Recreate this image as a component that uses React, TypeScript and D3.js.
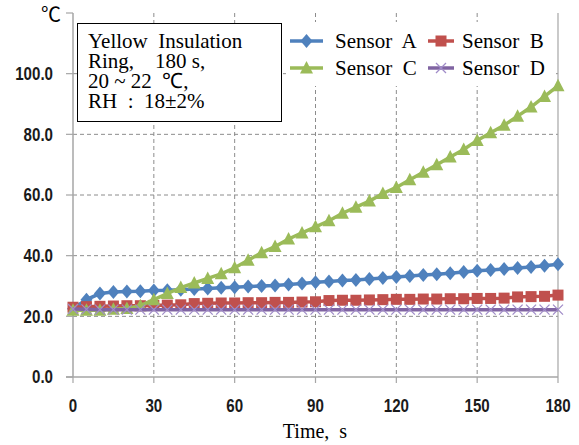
import React from "react";
import * as d3 from "d3";

const times = d3.range(0, 181, 5);
const sensorA = [22.5, 25.5, 27.5, 28, 28.2, 28.3, 28.5, 28.6, 28.8, 29, 29.2, 29.4, 29.6, 29.8, 30, 30.2, 30.5, 30.8, 31.2, 31.5, 31.8, 32, 32.3, 32.6, 33, 33.3, 33.6, 33.9, 34.2, 34.6, 35, 35.3, 35.6, 35.9, 36.3, 36.7, 37.2];
const sensorB = [23, 23.2, 23.3, 23.4, 23.5, 23.5, 23.6, 23.7, 23.8, 24.2, 24.3, 24.4, 24.4, 24.5, 24.5, 24.6, 24.6, 24.7, 24.8, 25.2, 25.3, 25.3, 25.4, 25.5, 25.6, 25.6, 25.7, 25.7, 25.8, 25.8, 25.9, 25.9, 26.0, 26.4, 26.5, 26.6, 27.0];
const sensorC = [22, 22, 22, 22.3, 22.6, 23.5, 25.5, 27.5, 29.5, 31, 32.5, 34, 36, 38.5, 41, 43, 45.5, 47.5, 49.5, 51.5, 54, 56, 58, 60.5, 62.5, 65, 67.5, 70, 72.5, 75, 78, 80.5, 83, 86, 89, 92.5, 96];
const sensorD = [22.4, 22.3, 22.2, 22.2, 22.2, 22.2, 22.2, 22.2, 22.2, 22.2, 22.2, 22.2, 22.2, 22.2, 22.2, 22.2, 22.2, 22.2, 22.2, 22.2, 22.2, 22.2, 22.2, 22.2, 22.2, 22.2, 22.2, 22.2, 22.2, 22.2, 22.2, 22.2, 22.2, 22.2, 22.2, 22.2, 22.2];

const xTicks = [0, 30, 60, 90, 120, 150, 180];
const yTicks = [0, 20, 40, 60, 80, 100];
const infoLines = ["Yellow  Insulation", "Ring,    180 s,", "20 ~ 22  ℃,", "RH  :  18±2%"];

const series = [
  { name: "Sensor  A", values: sensorA, color: "#4F81BD", marker: "diamond" },
  { name: "Sensor  B", values: sensorB, color: "#C0504D", marker: "square" },
  { name: "Sensor  C", values: sensorC, color: "#9BBB59", marker: "triangle" },
  { name: "Sensor  D", values: sensorD, color: "#8064A2", marker: "x" },
];

const W = 579, H = 445;
const x = d3.scaleLinear().domain([0, 180]).range([73, 558]);
const y = d3.scaleLinear().domain([0, 120]).range([377, 13]);

const tickFont = "'Liberation Sans', Arial, sans-serif";
const serif = "'Liberation Serif', 'Times New Roman', serif";

function Marker({ type, cx, cy, color }: { type: string; cx: number; cy: number; color: string }) {
  if (type === "diamond") {
    return <path d={`M${cx},${cy - 7}L${cx + 6},${cy}L${cx},${cy + 7}L${cx - 6},${cy}Z`} fill={color} />;
  }
  if (type === "square") {
    return <rect x={cx - 5.5} y={cy - 5.5} width={11} height={11} fill={color} />;
  }
  if (type === "triangle") {
    return <path d={`M${cx},${cy - 7}L${cx + 6.5},${cy + 5.5}L${cx - 6.5},${cy + 5.5}Z`} fill={color} />;
  }
  const r = 5;
  return (
    <path
      d={`M${cx - r},${cy - r}L${cx + r},${cy + r}M${cx - r},${cy + r}L${cx + r},${cy - r}`}
      stroke="#A08CC8"
      strokeWidth={1.3}
      fill="none"
    />
  );
}

export default function App() {
  const line = d3
    .line<number>()
    .x((_, i) => x(times[i]))
    .y((d) => y(d));

  return (
    <svg width={W} height={H} style={{ position: "absolute", left: 0, top: 0, background: "#fff" }}>
      <rect x={0} y={0} width={W} height={H} fill="#fff" />
      {/* gridlines */}
      {yTicks.filter((t) => t > 0).map((t) => (
        <line key={"gy" + t} x1={x(0)} x2={x(180)} y1={y(t)} y2={y(t)} stroke="#8c8c8c" strokeDasharray="4,3" strokeWidth={1} />
      ))}
      {xTicks.filter((t) => t > 0 && t < 180).map((t) => (
        <line key={"gx" + t} x1={x(t)} x2={x(t)} y1={y(120)} y2={y(0)} stroke="#8c8c8c" strokeDasharray="4,3" strokeWidth={1} />
      ))}
      {/* right border */}
      <line x1={x(180)} x2={x(180)} y1={y(120)} y2={y(0)} stroke="#a6a6a6" strokeWidth={1.2} />
      {/* axes */}
      <line x1={x(0)} x2={x(0)} y1={y(120)} y2={y(0)} stroke="#a6a6a6" strokeWidth={1.5} />
      <line x1={x(0) - 7} x2={x(180)} y1={y(0)} y2={y(0)} stroke="#a6a6a6" strokeWidth={1.5} />
      {[...yTicks, 120].map((t) => (
        <line key={"ty" + t} x1={x(0) - 7} x2={x(0)} y1={y(t)} y2={y(t)} stroke="#a6a6a6" strokeWidth={1.2} />
      ))}
      {xTicks.map((t) => (
        <line key={"tx" + t} x1={x(t)} x2={x(t)} y1={y(0)} y2={y(0) + 6} stroke="#a6a6a6" strokeWidth={1.2} />
      ))}
      {/* tick labels */}
      {yTicks.map((t) => (
        <text key={"ly" + t} transform={`translate(53,${y(t)}) scale(0.84,1)`} dy="0.36em" textAnchor="end" fontFamily={tickFont} fontWeight="bold" fontSize={18} fill="#1a1a1a">
          {d3.format(".1f")(t)}
        </text>
      ))}
      {xTicks.map((t) => (
        <text key={"lx" + t} transform={`translate(${x(t)},412) scale(0.84,1)`} textAnchor="middle" fontFamily={tickFont} fontWeight="bold" fontSize={18} fill="#1a1a1a">
          {t}
        </text>
      ))}
      <text x={51} y={22} textAnchor="middle" fontFamily="'Noto Sans CJK SC', sans-serif" fontSize={20} fill="#000">℃</text>
      <text x={315} y={438} textAnchor="middle" fontFamily={serif} fontSize={20} fill="#000" style={{ whiteSpace: "pre" }}>
        {"Time,  s"}
      </text>

      {/* series */}
      {series.map((s) => (
        <g key={s.name}>
          <path d={line(s.values) || ""} fill="none" stroke={s.color} strokeWidth={3.5} />
          {s.values.map((v, i) => (
            <Marker key={i} type={s.marker} cx={x(times[i])} cy={y(v)} color={s.color} />
          ))}
        </g>
      ))}

      {/* info box */}
      <rect x={77.5} y={23.5} width={204} height={98} fill="#fff" stroke="#000" strokeWidth={1} />
      {infoLines.map((l, i) => (
        <text key={i} x={88} y={48 + i * 20} fontFamily={serif} fontSize={21} fill="#000" style={{ whiteSpace: "pre" }}>
          {l}
        </text>
      ))}

      {/* legend */}
      <rect x={286} y={22} width={268} height={64} fill="#fff" />
      {series.map((s, i) => {
        const col = i % 2;
        const row = Math.floor(i / 2);
        const lx = col === 0 ? 290 : 428;
        const ly = row === 0 ? 41 : 68;
        const tx = col === 0 ? 335 : 462;
        return (
          <g key={"lg" + i}>
            <line x1={lx} x2={lx + (col === 0 ? 33 : 26)} y1={ly} y2={ly} stroke={s.color} strokeWidth={3.5} />
            <Marker type={s.marker} cx={lx + (col === 0 ? 16.5 : 13)} cy={ly} color={s.color} />
            <text x={tx} y={ly + 7} fontFamily={serif} fontSize={21} fill="#000" style={{ whiteSpace: "pre" }}>
              {s.name}
            </text>
          </g>
        );
      })}
    </svg>
  );
}
